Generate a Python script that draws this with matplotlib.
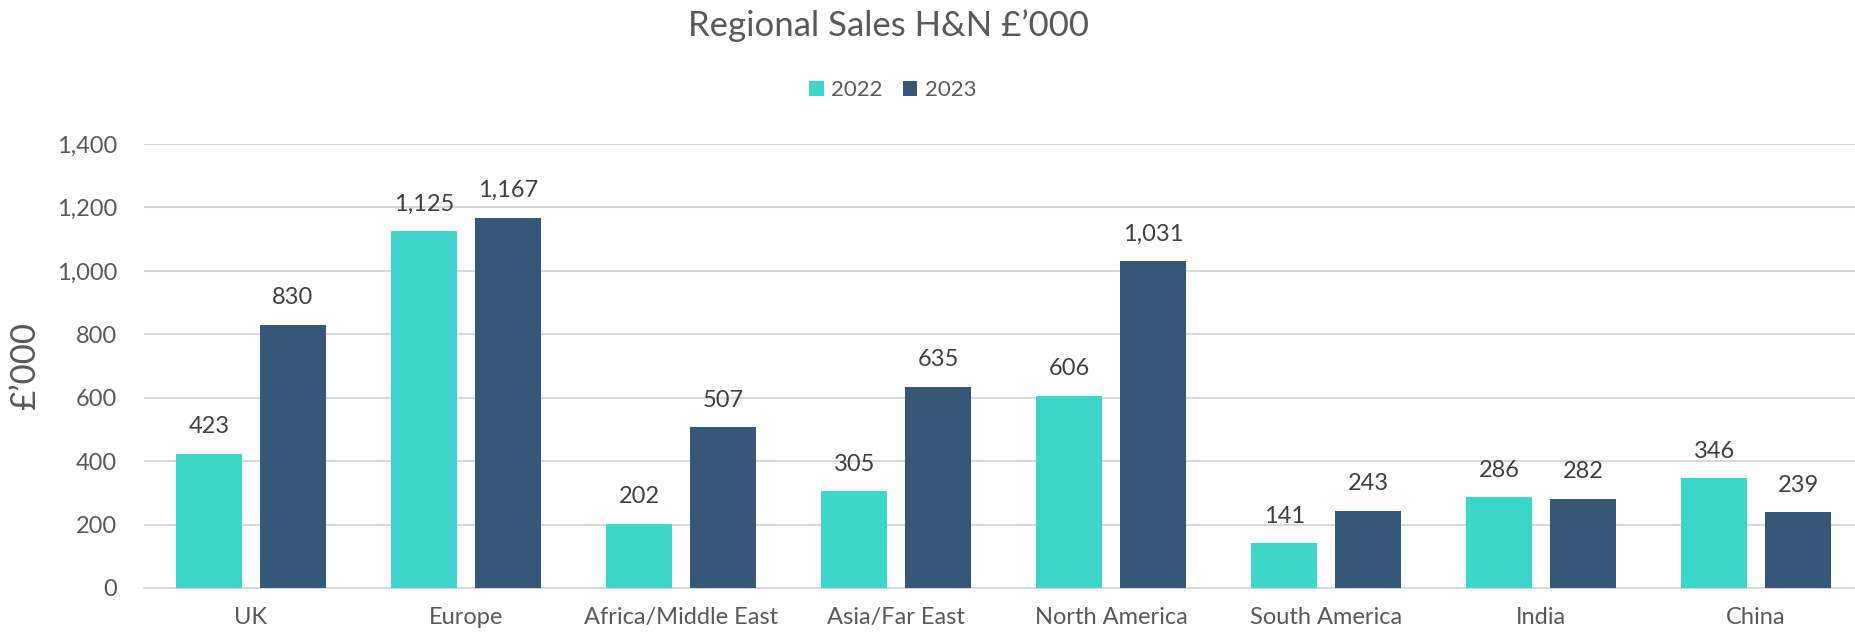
import matplotlib.pyplot as plt
import numpy as np
from matplotlib.ticker import FuncFormatter, MultipleLocator

# data
regions = ['UK', 'Europe', 'Africa/Middle East', 'Asia/Far East', 'North America',
           'South America', 'India', 'China']
sales_2022 = [423, 1125, 202, 305, 606, 141, 286, 346]
sales_2023 = [830, 1167, 507, 635, 1031, 243, 282, 239]

teal = '#3DD6CA'
navy = '#355778'
grey_txt = '#595959'
label_txt = '#404040'

plt.rcParams['font.family'] = ['Lato', 'DejaVu Sans']

fig = plt.figure(figsize=(18.55, 6.34), dpi=100)
ax = fig.add_axes([143.5 / 1855, 46 / 634, 1 - 143.5 / 1855, 444 / 634])

x = np.arange(len(regions))
bw = 0.307
off = 0.195
bars1 = ax.bar(x - off, sales_2022, width=bw, color=teal, label='2022', zorder=3)
bars2 = ax.bar(x + off, sales_2023, width=bw, color=navy, label='2023', zorder=3)

# value labels above the bars
for bars in (bars1, bars2):
    for b in bars:
        h = b.get_height()
        ax.annotate(f'{h:,.0f}', (b.get_x() + b.get_width() / 2, h),
                    xytext=(0, 19.5), textcoords='offset points',
                    ha='center', va='center', fontsize=17, color=label_txt)

ax.set_xlim(-0.5, 7.46)
ax.set_ylim(0, 1400)
ax.yaxis.set_major_locator(MultipleLocator(200))
ax.yaxis.set_major_formatter(FuncFormatter(lambda v, p: f'{v:,.0f}'))
ax.grid(axis='y', color='#d9d9d9', linewidth=1.5, zorder=0)
ax.set_axisbelow(True)
for s in ['top', 'right', 'left']:
    ax.spines[s].set_visible(False)
ax.spines['bottom'].set_color('#d9d9d9')
ax.spines['bottom'].set_linewidth(1.5)

ax.set_xticks(x)
ax.set_xticklabels(regions)
ax.tick_params(axis='x', length=0, pad=14, labelsize=17, labelcolor=grey_txt)
ax.tick_params(axis='y', length=0, pad=19, labelsize=17, labelcolor=grey_txt)

ax.set_ylabel('£’000', fontsize=25, color=grey_txt)
ax.yaxis.set_label_coords(-(143.5 - 41) / (1855 - 143.5), 0.5)

fig.text(889 / 1855, 1 - 26 / 634, 'Regional Sales H&N £’000', ha='center', va='center',
         fontsize=25, color=grey_txt)

fig.legend(handles=[bars1, bars2], labels=['2022', '2023'], loc='center',
           bbox_to_anchor=(893 / 1855, 1 - 90 / 634), ncol=2, frameon=False,
           fontsize=16, labelcolor=grey_txt, handlelength=0.65, handleheight=0.65,
           handletextpad=0.35, columnspacing=0.9)

fig.savefig('out.png', dpi=100)
